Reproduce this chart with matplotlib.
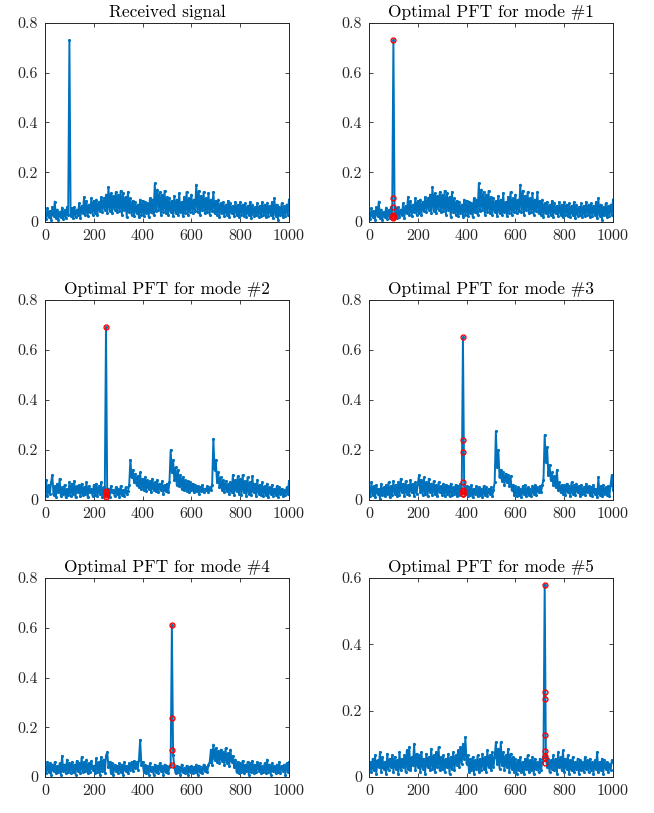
import numpy as np
import matplotlib
matplotlib.use("Agg")
import matplotlib.pyplot as plt

plt.rcParams['font.family'] = ['cmr10', 'DejaVu Serif']
plt.rcParams['axes.formatter.use_mathtext'] = True

titles = ["Received signal", "Optimal PFT for mode #1", "Optimal PFT for mode #2",
          "Optimal PFT for mode #3", "Optimal PFT for mode #4", "Optimal PFT for mode #5"]

xticks = [0, 200, 400, 600, 800, 1000]
xtick_labels = ["0", "200", "400", "600", "800", "1000"]
yticks_a = [0, 0.2, 0.4, 0.6, 0.8]
ytick_labels_a = ["0", "0.2", "0.4", "0.6", "0.8"]
yticks_b = [0, 0.2, 0.4, 0.6]
ytick_labels_b = ["0", "0.2", "0.4", "0.6"]

received = [
    0.030, 0.012, 0.055, 0.020, 0.045, 0.008, 0.060, 0.025, 0.082, 0.015, 0.050, 0.010, 0.040, 0.022, 0.058, 0.012, 0.048, 0.018, 0.060, 0.030,
    0.730,
    0.025, 0.055, 0.015, 0.060, 0.020, 0.050, 0.030, 0.075, 0.018, 0.065, 0.035, 0.100, 0.030, 0.085, 0.025, 0.070, 0.040, 0.095, 0.030,
    0.085, 0.035, 0.090, 0.030, 0.080, 0.045, 0.100, 0.040, 0.095, 0.050, 0.110, 0.038, 0.140, 0.045, 0.115, 0.035, 0.105, 0.050, 0.120, 0.040,
    0.110, 0.045, 0.125, 0.030, 0.115, 0.050, 0.100, 0.020, 0.120, 0.040, 0.095, 0.030, 0.085, 0.025, 0.080, 0.035, 0.070, 0.020, 0.090, 0.030,
    0.085, 0.025, 0.080, 0.035, 0.075, 0.020, 0.095, 0.040, 0.090, 0.030, 0.155, 0.045, 0.130, 0.050, 0.120, 0.030, 0.110, 0.040, 0.125, 0.035,
    0.100, 0.030, 0.095, 0.040, 0.085, 0.025, 0.105, 0.035, 0.090, 0.030, 0.115, 0.040, 0.080, 0.025, 0.100, 0.035, 0.120, 0.030, 0.095, 0.040,
    0.110, 0.035, 0.090, 0.045, 0.150, 0.040, 0.125, 0.030, 0.105, 0.050, 0.120, 0.035, 0.095, 0.040, 0.115, 0.030, 0.090, 0.045, 0.120, 0.035,
    0.085, 0.030, 0.090, 0.020, 0.075, 0.035, 0.080, 0.025, 0.070, 0.030, 0.085, 0.020, 0.075, 0.035, 0.065, 0.025, 0.080, 0.030, 0.070, 0.020,
    0.080, 0.030, 0.070, 0.025, 0.075, 0.020, 0.065, 0.030, 0.080, 0.015, 0.070, 0.025, 0.060, 0.030, 0.075, 0.020, 0.065, 0.025, 0.080, 0.030,
    0.070, 0.020, 0.075, 0.025, 0.065, 0.030, 0.080, 0.015, 0.095, 0.025, 0.070, 0.010, 0.060, 0.030, 0.075, 0.020, 0.065, 0.025, 0.070, 0.030, 0.090,
]

mode1 = received

mode2 = [
    0.020, 0.080, 0.015, 0.060, 0.025, 0.070, 0.100, 0.020, 0.055, 0.010, 0.065, 0.030, 0.085, 0.015, 0.050, 0.025, 0.060, 0.010, 0.045, 0.020,
    0.070, 0.015, 0.065, 0.025, 0.075, 0.010, 0.055, 0.030, 0.060, 0.015, 0.065, 0.020, 0.050, 0.025, 0.070, 0.010, 0.055, 0.030, 0.045, 0.015,
    0.060, 0.020, 0.065, 0.015, 0.055, 0.025, 0.070, 0.010, 0.050, 0.030, 0.690, 0.020, 0.045, 0.010, 0.055, 0.030, 0.040, 0.015, 0.050, 0.025,
    0.045, 0.010, 0.055, 0.020, 0.040, 0.015, 0.050, 0.025, 0.035, 0.060, 0.160, 0.090, 0.120, 0.070, 0.105, 0.060, 0.095, 0.050, 0.110, 0.045,
    0.085, 0.040, 0.090, 0.035, 0.080, 0.045, 0.075, 0.030, 0.085, 0.040, 0.070, 0.035, 0.080, 0.030, 0.065, 0.040, 0.075, 0.025, 0.060, 0.035,
    0.065, 0.030, 0.070, 0.200, 0.110, 0.160, 0.080, 0.130, 0.060, 0.120, 0.055, 0.100, 0.045, 0.090, 0.040, 0.080, 0.035, 0.075, 0.030, 0.070,
    0.040, 0.065, 0.030, 0.060, 0.035, 0.055, 0.025, 0.050, 0.035, 0.060, 0.030, 0.045, 0.040, 0.055, 0.030, 0.050, 0.040, 0.060, 0.245, 0.120,
    0.160, 0.070, 0.110, 0.050, 0.090, 0.040, 0.080, 0.030, 0.075, 0.035, 0.065, 0.025, 0.070, 0.030, 0.100, 0.020, 0.080, 0.035, 0.095, 0.025,
    0.085, 0.020, 0.100, 0.030, 0.075, 0.015, 0.090, 0.025, 0.070, 0.020, 0.095, 0.030, 0.065, 0.015, 0.080, 0.025, 0.060, 0.020, 0.070, 0.015,
    0.055, 0.020, 0.065, 0.010, 0.050, 0.025, 0.060, 0.015, 0.045, 0.020, 0.055, 0.010, 0.050, 0.025, 0.045, 0.015, 0.040, 0.020, 0.050, 0.025, 0.075,
]

mode3 = [
    0.030, 0.015, 0.070, 0.020, 0.055, 0.010, 0.060, 0.025, 0.045, 0.005, 0.065, 0.020, 0.050, 0.015, 0.060, 0.025, 0.070, 0.010, 0.055, 0.020,
    0.075, 0.025, 0.060, 0.015, 0.070, 0.020, 0.085, 0.030, 0.065, 0.015, 0.075, 0.025, 0.060, 0.020, 0.080, 0.030, 0.065, 0.015, 0.070, 0.025,
    0.065, 0.100, 0.030, 0.080, 0.020, 0.090, 0.025, 0.070, 0.015, 0.085, 0.030, 0.065, 0.020, 0.075, 0.025, 0.060, 0.015, 0.070, 0.030, 0.055,
    0.020, 0.065, 0.015, 0.060, 0.025, 0.055, 0.015, 0.065, 0.020, 0.050, 0.025, 0.060, 0.015, 0.055, 0.020, 0.065, 0.030, 0.650, 0.060, 0.025,
    0.055, 0.015, 0.050, 0.020, 0.060, 0.010, 0.045, 0.025, 0.055, 0.015, 0.050, 0.020, 0.045, 0.010, 0.055, 0.020, 0.050, 0.015, 0.045, 0.025,
    0.050, 0.015, 0.040, 0.070, 0.275, 0.130, 0.200, 0.090, 0.120, 0.075, 0.110, 0.060, 0.105, 0.070, 0.100, 0.055, 0.095, 0.040, 0.060, 0.020,
    0.055, 0.015, 0.050, 0.020, 0.045, 0.010, 0.055, 0.025, 0.060, 0.015, 0.050, 0.020, 0.045, 0.015, 0.055, 0.025, 0.060, 0.020, 0.050, 0.030,
    0.055, 0.030, 0.060, 0.080, 0.260, 0.150, 0.210, 0.100, 0.140, 0.080, 0.110, 0.060, 0.095, 0.050, 0.120, 0.040, 0.070, 0.030, 0.060, 0.025,
    0.060, 0.020, 0.065, 0.030, 0.055, 0.015, 0.070, 0.025, 0.060, 0.020, 0.065, 0.030, 0.055, 0.015, 0.060, 0.025, 0.050, 0.020, 0.065, 0.030,
    0.055, 0.020, 0.050, 0.015, 0.060, 0.025, 0.045, 0.010, 0.090, 0.020, 0.055, 0.015, 0.060, 0.025, 0.050, 0.020, 0.055, 0.015, 0.060, 0.100, 0.040,
]

mode4 = [
    0.030, 0.015, 0.060, 0.020, 0.055, 0.010, 0.050, 0.025, 0.060, 0.015, 0.045, 0.020, 0.055, 0.010, 0.085, 0.025, 0.050, 0.015, 0.070, 0.020,
    0.055, 0.015, 0.060, 0.020, 0.050, 0.010, 0.065, 0.025, 0.055, 0.015, 0.080, 0.020, 0.060, 0.025, 0.070, 0.015, 0.055, 0.020, 0.065, 0.030,
    0.045, 0.015, 0.075, 0.020, 0.060, 0.010, 0.080, 0.025, 0.070, 0.015, 0.085, 0.100, 0.040, 0.060, 0.015, 0.055, 0.010, 0.050, 0.025, 0.045,
    0.015, 0.055, 0.020, 0.050, 0.010, 0.060, 0.025, 0.045, 0.015, 0.055, 0.030, 0.060, 0.025, 0.065, 0.035, 0.060, 0.030, 0.070, 0.150, 0.050,
    0.060, 0.020, 0.050, 0.015, 0.045, 0.010, 0.055, 0.025, 0.040, 0.010, 0.050, 0.020, 0.045, 0.015, 0.055, 0.025, 0.045, 0.010, 0.050, 0.020,
    0.045, 0.015, 0.040, 0.050, 0.610, 0.090, 0.040, 0.015, 0.045, 0.020, 0.040, 0.010, 0.050, 0.020, 0.035, 0.015, 0.045, 0.010, 0.040, 0.020,
    0.045, 0.015, 0.040, 0.020, 0.050, 0.010, 0.045, 0.020, 0.040, 0.015, 0.050, 0.025, 0.040, 0.020, 0.050, 0.060, 0.110, 0.050, 0.130, 0.070,
    0.115, 0.060, 0.105, 0.055, 0.110, 0.065, 0.100, 0.050, 0.115, 0.055, 0.095, 0.045, 0.110, 0.060, 0.085, 0.040, 0.070, 0.020, 0.060, 0.015,
    0.055, 0.020, 0.065, 0.015, 0.050, 0.025, 0.060, 0.010, 0.055, 0.020, 0.065, 0.015, 0.050, 0.020, 0.060, 0.025, 0.055, 0.015, 0.045, 0.020,
    0.055, 0.015, 0.070, 0.020, 0.050, 0.010, 0.055, 0.025, 0.045, 0.015, 0.050, 0.020, 0.060, 0.015, 0.045, 0.025, 0.050, 0.010, 0.055, 0.020, 0.060,
]

mode5 = [
    0.025, 0.045, 0.015, 0.055, 0.020, 0.065, 0.010, 0.050, 0.030, 0.075, 0.015, 0.060, 0.025, 0.045, 0.010, 0.070, 0.020, 0.055, 0.030, 0.065,
    0.015, 0.060, 0.025, 0.050, 0.010, 0.075, 0.020, 0.055, 0.030, 0.065, 0.015, 0.080, 0.025, 0.090, 0.020, 0.060, 0.035, 0.100, 0.020, 0.070,
    0.030, 0.065, 0.015, 0.075, 0.025, 0.055, 0.010, 0.070, 0.030, 0.060, 0.020, 0.085, 0.025, 0.065, 0.015, 0.075, 0.030, 0.090, 0.020, 0.060,
    0.025, 0.065, 0.015, 0.055, 0.030, 0.070, 0.010, 0.060, 0.025, 0.075, 0.020, 0.065, 0.035, 0.080, 0.030, 0.090, 0.040, 0.100, 0.055, 0.120,
    0.040, 0.065, 0.015, 0.055, 0.020, 0.060, 0.010, 0.050, 0.025, 0.065, 0.015, 0.055, 0.020, 0.070, 0.025, 0.060, 0.015, 0.080, 0.030, 0.065,
    0.020, 0.075, 0.030, 0.060, 0.105, 0.040, 0.085, 0.025, 0.105, 0.035, 0.075, 0.020, 0.065, 0.030, 0.085, 0.015, 0.070, 0.025, 0.060, 0.015,
    0.055, 0.010, 0.050, 0.020, 0.060, 0.015, 0.045, 0.010, 0.055, 0.025, 0.065, 0.015, 0.050, 0.020, 0.060, 0.010, 0.055, 0.025, 0.045, 0.015,
    0.055, 0.020, 0.045, 0.060, 0.580, 0.060, 0.030, 0.055, 0.015, 0.050, 0.025, 0.065, 0.020, 0.055, 0.010, 0.075, 0.030, 0.060, 0.020, 0.080,
    0.015, 0.055, 0.025, 0.065, 0.010, 0.050, 0.020, 0.060, 0.015, 0.045, 0.025, 0.055, 0.010, 0.050, 0.020, 0.045, 0.015, 0.060, 0.025, 0.050,
    0.015, 0.055, 0.020, 0.045, 0.010, 0.050, 0.025, 0.075, 0.015, 0.045, 0.020, 0.055, 0.010, 0.050, 0.025, 0.045, 0.015, 0.040, 0.020, 0.050, 0.045,
]

signals = [received, mode1, mode2, mode3, mode4, mode5]

marker_x = [None, 99, 249, 385, 519, 720]
marker_y = [
    None,
    [0.732, 0.095, 0.062, 0.030, 0.025, 0.020, 0.015],
    [0.692, 0.035, 0.030, 0.025, 0.020, 0.010],
    [0.652, 0.240, 0.190, 0.073, 0.040, 0.035, 0.030, 0.025, 0.022],
    [0.612, 0.236, 0.107, 0.048],
    [0.580, 0.255, 0.235, 0.127, 0.078, 0.062, 0.058, 0.042],
]

ylims = [0.8, 0.8, 0.8, 0.8, 0.8, 0.6]

W, H = 654, 813
fig = plt.figure(figsize=(W / 100, H / 100), dpi=100)

lefts = [45, 369]
tops = [23, 300, 578]
bottoms = [222, 500, 777]
aw = 244

blue = '#0072BD'
axc = '#262626'

for i in range(6):
    r, c = divmod(i, 2)
    l = lefts[c]
    t = tops[r]
    b = bottoms[r]
    ax = fig.add_axes([l / W, 1 - b / H, aw / W, (b - t) / H])
    y = np.array(signals[i])
    x = np.linspace(0, 1000, len(y))
    ax.plot(x, y, color=blue, lw=1.4, marker='.', ms=2.5)
    if marker_x[i] is not None:
        my = marker_y[i]
        ax.plot([marker_x[i]] * len(my), my, linestyle='none', marker='o',
                ms=3.5, mfc='none', mec='red', mew=1.0)
    ax.set_xlim(0, 1000)
    ax.set_ylim(0, ylims[i])
    ax.set_xticks(xticks)
    ax.set_xticklabels(xtick_labels)
    if ylims[i] == 0.8:
        ax.set_yticks(yticks_a)
        ax.set_yticklabels(ytick_labels_a)
    else:
        ax.set_yticks(yticks_b)
        ax.set_yticklabels(ytick_labels_b)
    ax.tick_params(direction='in', length=3, width=0.6, colors=axc,
                   labelsize=11.5, top=True, right=True, pad=5)
    for s in ax.spines.values():
        s.set_color(axc)
        s.set_linewidth(0.7)
    ax.set_title(titles[i], fontsize=12.5, color='black', pad=4)

fig.savefig('out.png', dpi=100)
